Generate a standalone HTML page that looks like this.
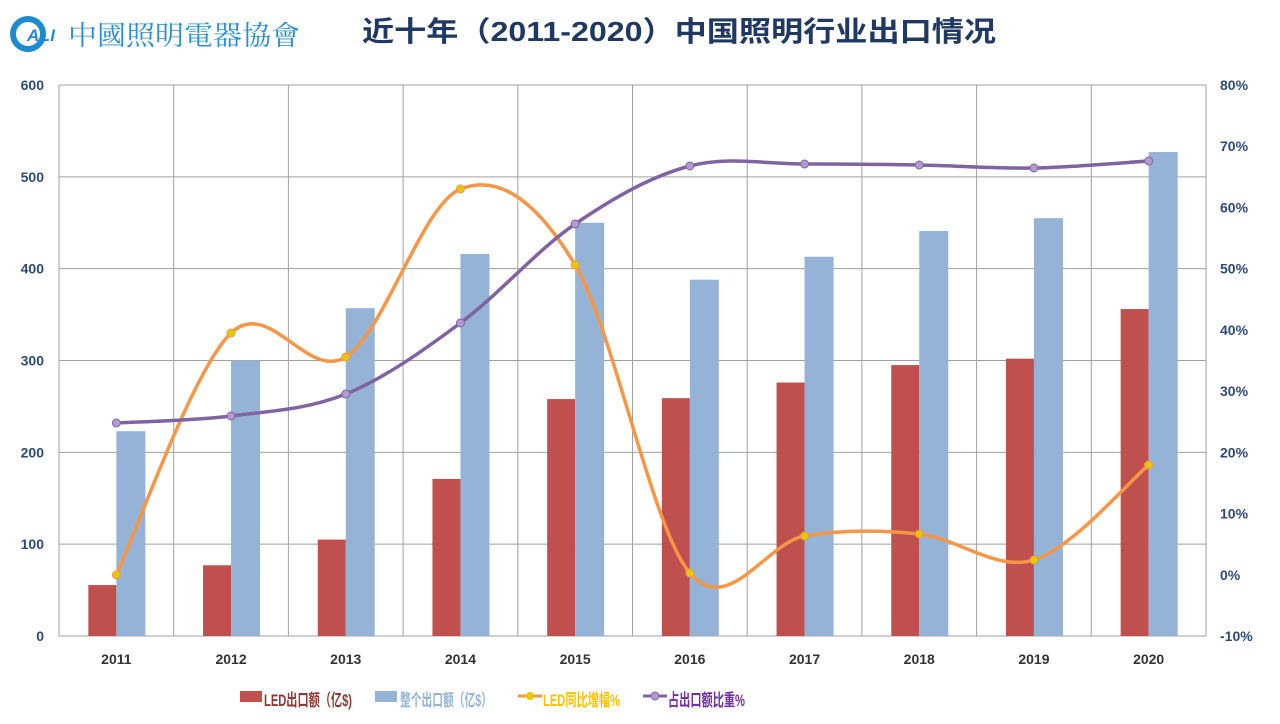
<!DOCTYPE html><html><head><meta charset="utf-8"><style>
body{margin:0;background:#fff;width:1280px;height:719px;overflow:hidden;font-family:"Liberation Sans","Noto Sans CJK SC",sans-serif}
</style></head><body>
<svg id="s" width="1280" height="719" xmlns="http://www.w3.org/2000/svg" font-family="Liberation Sans, Noto Sans CJK SC, sans-serif">
<circle cx="28" cy="34" r="15" fill="none" stroke="#1e8bd0" stroke-width="6"/>
<text x="27" y="41" font-size="17" font-weight="bold" font-style="italic" fill="#1e8bd0" textLength="28">ALI</text>
<text x="68" y="45" font-size="27" fill="#2a8fd2" font-family="Noto Serif CJK SC, serif" textLength="232" lengthAdjust="spacingAndGlyphs">中國照明電器協會</text>
<text x="362" y="41" font-size="28" font-weight="bold" fill="#1f3864" textLength="634" lengthAdjust="spacingAndGlyphs">近十年（2011-2020）中国照明行业出口情况</text>
<g id="g"></g>
</svg>
<script>
const g=document.getElementById('g');let h='';
const L=59,R=1206,T=85,B=636,cw=(R-L)/10;
for(let i=0;i<=6;i++){const y=T+i*(B-T)/6;h+=`<line x1="${L}" x2="${R}" y1="${y}" y2="${y}" stroke="#a0a0a0" stroke-width="1"/>`;
h+=`<text x="${44}" y="${y+5}" text-anchor="end" font-size="14" font-weight="bold" fill="#2e4a7a">${600-i*100}</text>`;}
for(let i=0;i<=9;i++){const y=T+i*(B-T)/9;h+=`<text x="1220" y="${y+5}" font-size="14" font-weight="bold" fill="#2e4a7a">${80-i*10}%</text>`;}
for(let i=0;i<=10;i++){const x=L+i*cw;h+=`<line x1="${x}" x2="${x}" y1="${T}" y2="${B}" stroke="#a0a0a0" stroke-width="1"/>`;}
const red=[55.5,77,105,171,258,259,276,295,302,356],blue=[223,300,357,416,450,388,413,441,455,527];
const ys=v=>B-v*(B-T)/600;
for(let i=0;i<10;i++){const c=L+cw*(i+.5);
h+=`<rect x="${c-28}" y="${ys(red[i])}" width="28" height="${B-ys(red[i])}" fill="#c0504d"/>`;
h+=`<rect x="${c}" y="${ys(blue[i])}" width="29" height="${B-ys(blue[i])}" fill="#95b3d7"/>`;
h+=`<text x="${c}" y="664" text-anchor="middle" font-size="14" font-weight="bold" fill="#333">${2011+i}</text>`;}
function curve(py,col,mk){const p=py.map((y,i)=>[L+cw*(i+.5),y]);let d=`M${p[0][0]},${p[0][1]}`;
for(let i=0;i<p.length-1;i++){const p0=p[Math.max(0,i-1)],p1=p[i],p2=p[i+1],p3=p[Math.min(p.length-1,i+2)];
d+=` C${p1[0]+(p2[0]-p0[0])/6},${p1[1]+(p2[1]-p0[1])/6} ${p2[0]-(p3[0]-p1[0])/6},${p2[1]-(p3[1]-p1[1])/6} ${p2[0]},${p2[1]}`;}
let s=`<path d="${d}" fill="none" stroke="${col}" stroke-width="3.5"/>`;
p.forEach(q=>s+=`<circle cx="${q[0]}" cy="${q[1]}" r="4" fill="${mk}" stroke="${col}" stroke-width="1"/>`);return s;}
h+=curve([575,333,357,189,265,573,536,534,560,465],'#f79646','#e6c800');
h+=curve([423,416,394,323,224,166,164,165,168,161],'#8064a2','#b09ad0');
const t=(x,w,c,s)=>`<text x="${x}" y="706" font-size="17" font-weight="bold" fill="${c}" textLength="${w}" lengthAdjust="spacingAndGlyphs">${s}</text>`;
h+=`<rect x="240" y="691" width="22" height="11" fill="#c0504d"/>`+t(264,88,'#943634','LED出口额（亿$)');
h+=`<rect x="375" y="691" width="22" height="11" fill="#95b3d7"/>`+t(400,92,'#95b3d7','整个出口额（亿$）');
h+=`<line x1="518" x2="542" y1="696" y2="696" stroke="#f79646" stroke-width="3"/><circle cx="530" cy="696" r="4" fill="#e6c800"/>`+t(543,77,'#ffc000','LED同比增幅%');
h+=`<line x1="643" x2="667" y1="696" y2="696" stroke="#8064a2" stroke-width="3"/><circle cx="655" cy="696" r="4" fill="#b09ad0" stroke="#8064a2"/>`+t(668,77,'#7030a0','占出口额比重%');
g.innerHTML=h;
</script>
</body></html>
